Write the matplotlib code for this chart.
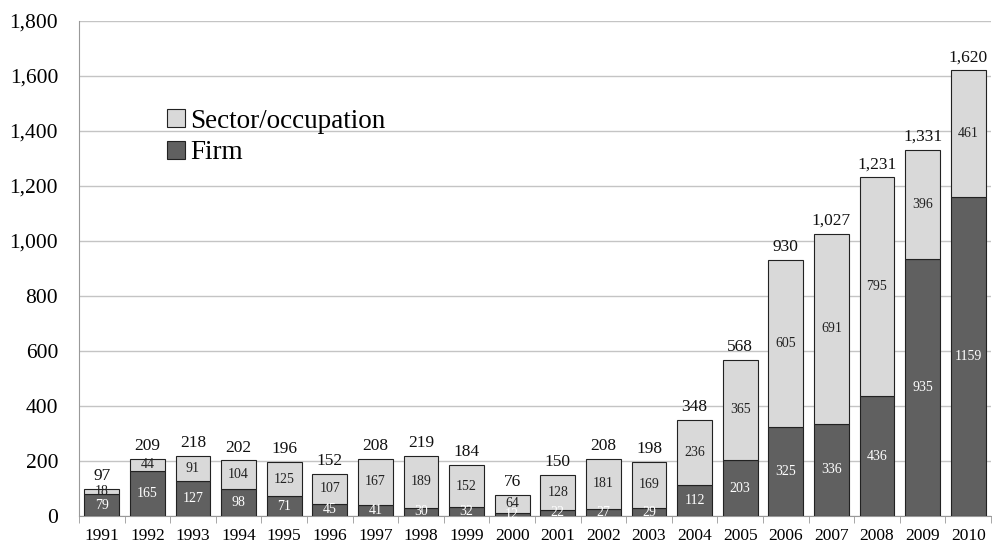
import numpy as np
import matplotlib.pyplot as plt

plt.rcParams['font.family'] = ['Liberation Serif', 'DejaVu Serif']

years = [str(y) for y in range(1991, 2011)]
firm = [79, 165, 127, 98, 71, 45, 41, 30, 32, 12, 22, 27, 29, 112, 203, 325, 336, 436, 935, 1159]
sector = [18, 44, 91, 104, 125, 107, 167, 189, 152, 64, 128, 181, 169, 236, 365, 605, 691, 795, 396, 461]
totals = [97, 209, 218, 202, 196, 152, 208, 219, 184, 76, 150, 208, 198, 348, 568, 930, 1027, 1231, 1331, 1620]

dark = '#606060'
light = '#d9d9d9'

fig = plt.figure(figsize=(9.92, 5.46), dpi=100)
ax = fig.add_axes([79 / 992, 30 / 546, 912 / 992, 495 / 546])

x = np.arange(len(years))
w = 0.76
ax.bar(x, firm, w, color=dark, edgecolor='#222222', linewidth=0.8, label='Firm', zorder=3)
ax.bar(x, sector, w, bottom=firm, color=light, edgecolor='#222222', linewidth=0.8,
       label='Sector/occupation', zorder=3)

for i in range(len(years)):
    ax.text(x[i], firm[i] / 2, str(firm[i]), ha='center', va='center', color='white',
            fontsize=10, zorder=4)
    ax.text(x[i], firm[i] + sector[i] / 2, str(sector[i]), ha='center', va='center',
            color='#222222', fontsize=10, zorder=4)
    ax.text(x[i], totals[i] + 18, f'{totals[i]:,}', ha='center', va='bottom',
            color='#111111', fontsize=12.5, zorder=4)

ax.set_xlim(-0.5, len(years) - 0.5)
ax.set_ylim(0, 1800)
ax.set_yticks(np.arange(0, 1801, 200))
ax.set_yticklabels([f'{v:,}' for v in range(0, 1801, 200)], fontsize=15.5)
ax.set_xticks(x)
ax.set_xticklabels(years, fontsize=12.5)
ax.set_xticks(np.arange(-0.5, len(years), 1), minor=True)
ax.tick_params(axis='x', which='major', length=0, pad=9)
ax.tick_params(axis='x', which='minor', length=5, color='#999999')
ax.tick_params(axis='y', length=0, pad=15)
ax.yaxis.grid(True, color='#c4c4c4', linewidth=1, zorder=0)
ax.set_axisbelow(True)
for s in ['top', 'right']:
    ax.spines[s].set_visible(False)
ax.spines['left'].set_color('#999999')
ax.spines['bottom'].set_color('#999999')

h, l = ax.get_legend_handles_labels()
ax.legend(h[::-1], l[::-1], loc='upper left', bbox_to_anchor=(0.085, 0.845), frameon=False,
          fontsize=19.5, handlelength=0.65, handleheight=0.65, handletextpad=0.2,
          labelspacing=0.25, borderaxespad=0)

fig.savefig('out.png', dpi=100)
